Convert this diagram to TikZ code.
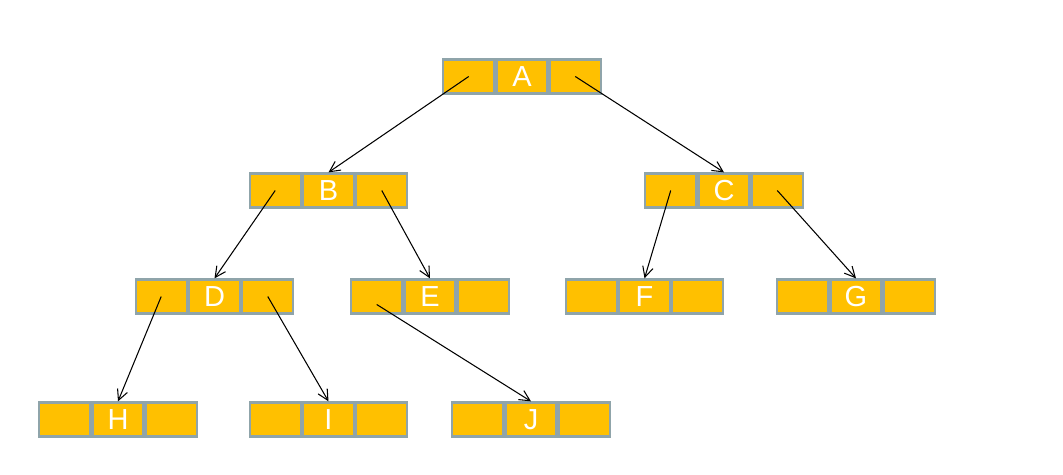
\documentclass[tikz,border=0pt]{standalone}
\usepackage{fontspec}
\setmainfont{Liberation Sans}
\usepackage{tikz}
\usetikzlibrary{positioning,arrows.meta}
\definecolor{cellfill}{RGB}{255,192,0}
\definecolor{cellline}{RGB}{143,164,170}
\tikzset{
    cell/.style={
           rectangle,
           draw=cellline, line width=1.3pt,
           fill=cellfill,
           minimum width=1.02cm,
           minimum height=0.68cm,
           inner sep=0pt,
           text=white,
           font=\fontsize{16.5}{16.5}\selectfont
           },
}

\begin{document}
\begin{tikzpicture}[x=0.02cm,y=-0.02cm,->,>={Straight Barb[length=6pt,width=6pt]},line width=0.6pt]
\useasboundingbox (0,0) rectangle (1063,475);

% root
\node[cell] (A) at (522,76.5) {A};
\node[cell, left=0pt of A] (Al) {};
\node[cell, right=0pt of A] (Ar) {};

% second row
\node[cell] (B) at (328.5,190.5) {B};
\node[cell, left=0pt of B] (Bl) {};
\node[cell, right=0pt of B] (Br) {};
\node[cell] (C) at (724,190.5) {C};
\node[cell, left=0pt of C] (Cl) {};
\node[cell, right=0pt of C] (Cr) {};

% third row
\node[cell] (D) at (214.5,296.5) {D};
\node[cell, left=0pt of D] (Dl) {};
\node[cell, right=0pt of D] (Dr) {};
\node[cell] (E) at (430,296.5) {E};
\node[cell, left=0pt of E] (El) {};
\node[cell, right=0pt of E] (Er) {};
\node[cell] (F) at (644.5,296.5) {F};
\node[cell, left=0pt of F] (Fl) {};
\node[cell, right=0pt of F] (Fr) {};
\node[cell] (G) at (856,296.5) {G};
\node[cell, left=0pt of G] (Gl) {};
\node[cell, right=0pt of G] (Gr) {};

% leaves
\node[cell] (H) at (118,419.5) {H};
\node[cell, left=0pt of H] (Hl) {};
\node[cell, right=0pt of H] (Hr) {};
\node[cell] (I) at (328.5,419.5) {I};
\node[cell, left=0pt of I] (Il) {};
\node[cell, right=0pt of I] (Ir) {};
\node[cell] (J) at (531,419.5) {J};
\node[cell, left=0pt of J] (Jl) {};
\node[cell, right=0pt of J] (Jr) {};

% pointers
\draw (Al.center) -- (B.north);
\draw (Ar.center) -- (C.north);
\draw (Bl.center) -- (D.north);
\draw (Br.center) -- (E.north);
\draw (Cl.center) -- (F.north);
\draw (Cr.center) -- (G.north);
\draw (Dl.center) -- (H.north);
\draw (Dr.center) -- (I.north);
\draw ([yshift=-0.16cm]El.center) -- (J.north);

\end{tikzpicture}
\end{document}
